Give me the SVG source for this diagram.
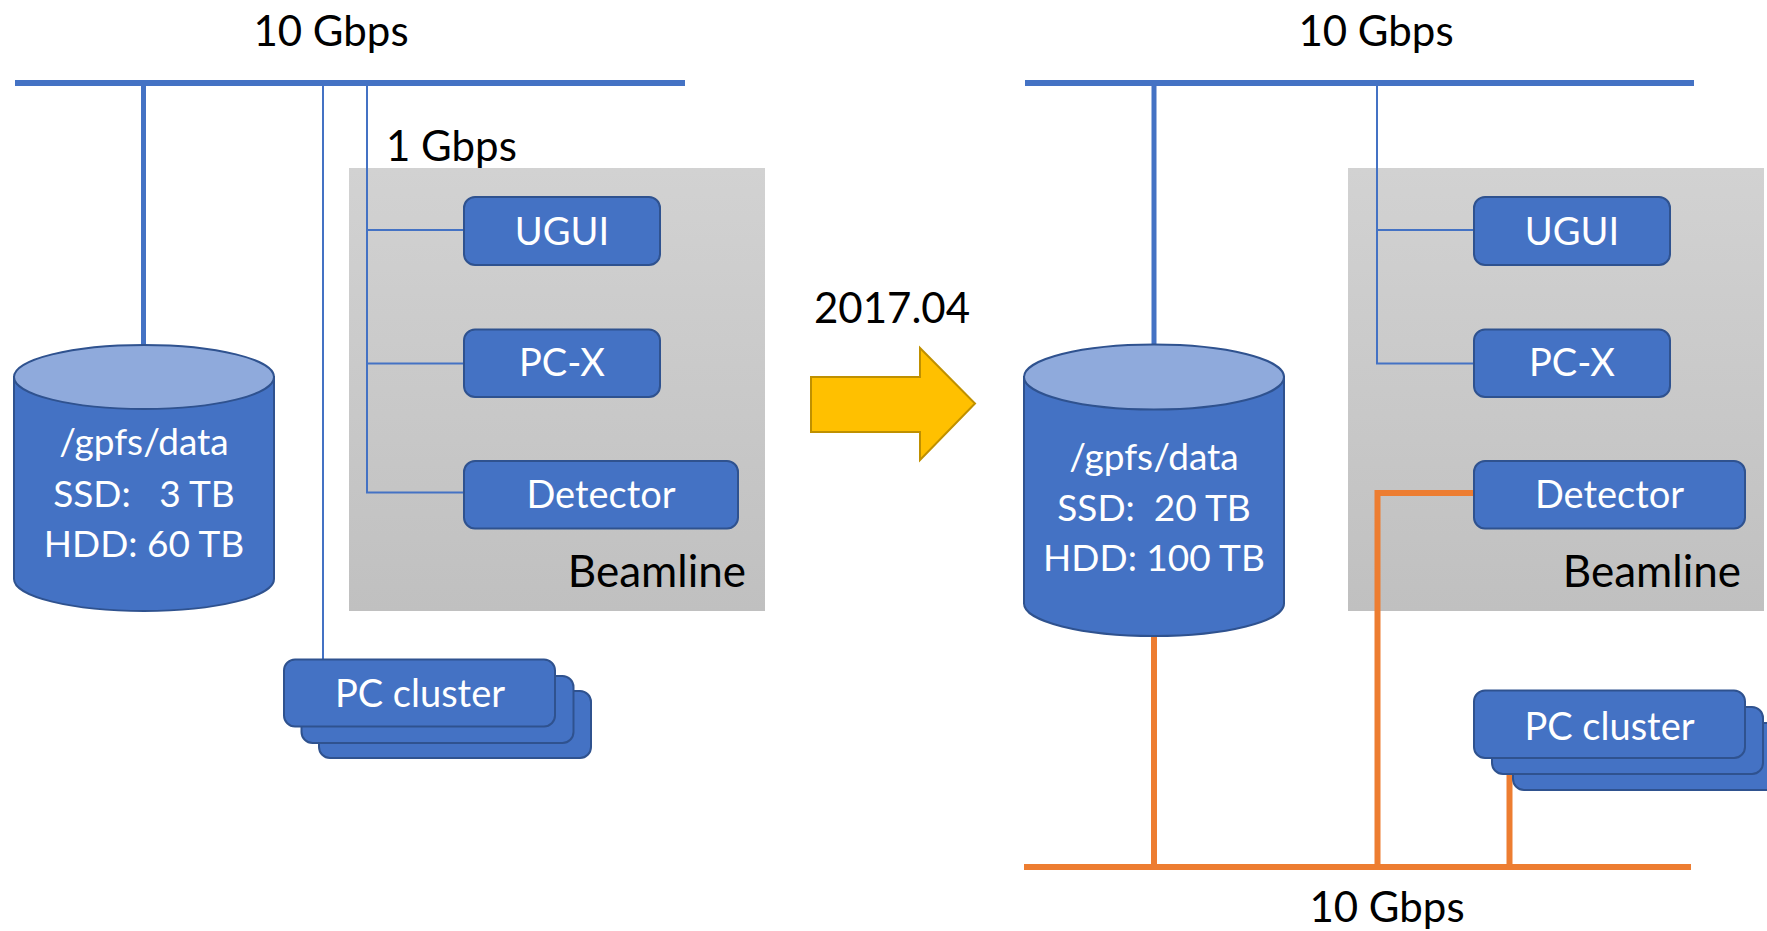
<svg xmlns="http://www.w3.org/2000/svg" width="1767" height="931" viewBox="0 0 1767 931">
  <style>
    .lbl { font-family: Lato, "Liberation Sans", sans-serif; font-size: 42px; fill: #000; }
    .bl { font-size: 44px; }
    .wt { font-family: Lato, "Liberation Sans", sans-serif; font-size: 38px; fill: #fff; text-anchor: middle; }
    .cy { font-size: 37px; }
    .box { fill: #4472C4; stroke: #2F528F; stroke-width: 2; }
    .cylb { fill: #4472C4; stroke: #2F528F; stroke-width: 2; }
    .cylt { fill: #8FAADC; stroke: #2F528F; stroke-width: 2; }
    .bus { stroke: #4472C4; stroke-width: 6; fill: none; }
    .thick { stroke: #4472C4; stroke-width: 5; fill: none; }
    .thin { stroke: #4472C4; stroke-width: 2; fill: none; }
    .org { stroke: #ED7D31; stroke-width: 6; fill: none; }
  </style>
  <defs>
    <linearGradient id="gray" x1="0" y1="0" x2="0" y2="1">
      <stop offset="0" stop-color="#D2D2D2"/>
      <stop offset="1" stop-color="#C0C0C0"/>
    </linearGradient>
  </defs>
  <rect width="1767" height="931" fill="#fff"/>

  <!-- Beamline backgrounds -->
  <g id="beamline-left">
    <rect x="349" y="168" width="416" height="443" fill="url(#gray)"/>
    <text class="lbl bl" x="746" y="587" text-anchor="end">Beamline</text>
  </g>
  <g id="beamline-right">
    <rect x="1348" y="168" width="416" height="443" fill="url(#gray)"/>
    <text class="lbl bl" x="1741" y="587" text-anchor="end">Beamline</text>
  </g>

  <!-- Connectors -->
  <g id="connectors">
    <line class="bus" x1="15" y1="83" x2="685" y2="83"/>
    <line class="thick" x1="143.5" y1="83" x2="143.5" y2="346"/>
    <line class="thin" x1="323" y1="83" x2="323" y2="660"/>
    <polyline class="thin" points="367,83 367,492.5 464,492.5"/>
    <line class="thin" x1="367" y1="230" x2="464" y2="230"/>
    <line class="thin" x1="367" y1="363.5" x2="464" y2="363.5"/>

    <line class="bus" x1="1025" y1="83" x2="1694" y2="83"/>
    <line class="thick" x1="1154" y1="83" x2="1154" y2="346"/>
    <polyline class="thin" points="1377,83 1377,363.5 1474,363.5"/>
    <line class="thin" x1="1377" y1="230" x2="1474" y2="230"/>

    <line class="org" x1="1024" y1="867" x2="1691" y2="867"/>
    <line class="org" x1="1154" y1="636" x2="1154" y2="867"/>
    <polyline class="org" points="1474,493 1377.5,493 1377.5,867"/>
    <line class="org" x1="1509.5" y1="758" x2="1509.5" y2="867"/>
  </g>

  <!-- Labels -->
  <g id="labels">
    <text class="lbl" x="331" y="46" text-anchor="middle">10 Gbps</text>
    <text class="lbl" x="1376" y="46" text-anchor="middle">10 Gbps</text>
    <text class="lbl" x="386" y="161">1 Gbps</text>
    <text class="lbl" x="892" y="323" text-anchor="middle">2017.04</text>
    <text class="lbl" x="1387" y="922" text-anchor="middle">10 Gbps</text>
  </g>

  <!-- Arrow -->
  <g id="arrow">
    <polygon points="811,377 920,377 920,348 975,403.5 920,460 920,432 811,432" fill="#FFC000" stroke="#BF9000" stroke-width="2"/>
  </g>

  <!-- Left storage -->
  <g id="storage-left">
    <path class="cylb" d="M14,377 V579 A130,32 0 0 0 274,579 V377 Z"/>
    <ellipse class="cylt" cx="144" cy="377" rx="130" ry="32"/>
    <text class="wt cy" x="144" y="455">/gpfs/data</text>
    <text class="wt cy" x="144" y="507" xml:space="preserve">SSD:   3 TB</text>
    <text class="wt cy" x="144" y="557">HDD: 60 TB</text>
  </g>

  <g id="ugui-left">
    <rect class="box" x="464" y="197" width="196" height="68" rx="11"/>
    <text class="wt" x="562" y="245">UGUI</text>
  </g>
  <g id="pcx-left">
    <rect class="box" x="464" y="329.5" width="196" height="67.5" rx="11"/>
    <text class="wt" x="562" y="376">PC-X</text>
  </g>
  <g id="detector-left">
    <rect class="box" x="464" y="461" width="274" height="67.5" rx="11"/>
    <text class="wt" x="601" y="508">Detector</text>
  </g>
  <g id="pccluster-left">
    <rect class="box" x="319" y="691" width="272" height="67" rx="11"/>
    <rect class="box" x="301.5" y="676" width="272" height="67" rx="11"/>
    <rect class="box" x="284" y="659.5" width="271" height="67" rx="11"/>
    <text class="wt" x="420" y="707">PC cluster</text>
  </g>

  <!-- Right storage -->
  <g id="storage-right">
    <path class="cylb" d="M1024,377 V603.5 A130,32.5 0 0 0 1284,603.5 V377 Z"/>
    <ellipse class="cylt" cx="1154" cy="377" rx="130" ry="32.5"/>
    <text class="wt cy" x="1154" y="470">/gpfs/data</text>
    <text class="wt cy" x="1154" y="521" xml:space="preserve">SSD:  20 TB</text>
    <text class="wt cy" x="1154" y="571">HDD: 100 TB</text>
  </g>

  <g id="ugui-right">
    <rect class="box" x="1474" y="197" width="196" height="68" rx="11"/>
    <text class="wt" x="1572" y="245">UGUI</text>
  </g>
  <g id="pcx-right">
    <rect class="box" x="1474" y="329.5" width="196" height="67.5" rx="11"/>
    <text class="wt" x="1572" y="376">PC-X</text>
  </g>
  <g id="detector-right">
    <rect class="box" x="1474" y="461" width="271" height="67.5" rx="11"/>
    <text class="wt" x="1609.5" y="508">Detector</text>
  </g>
  <g id="pccluster-right">
    <rect class="box" x="1513" y="723" width="272" height="67" rx="11"/>
    <rect class="box" x="1492" y="707" width="271" height="67" rx="11"/>
    <rect class="box" x="1474" y="690.5" width="271" height="67.5" rx="11"/>
    <text class="wt" x="1609.5" y="740">PC cluster</text>
  </g>
</svg>
